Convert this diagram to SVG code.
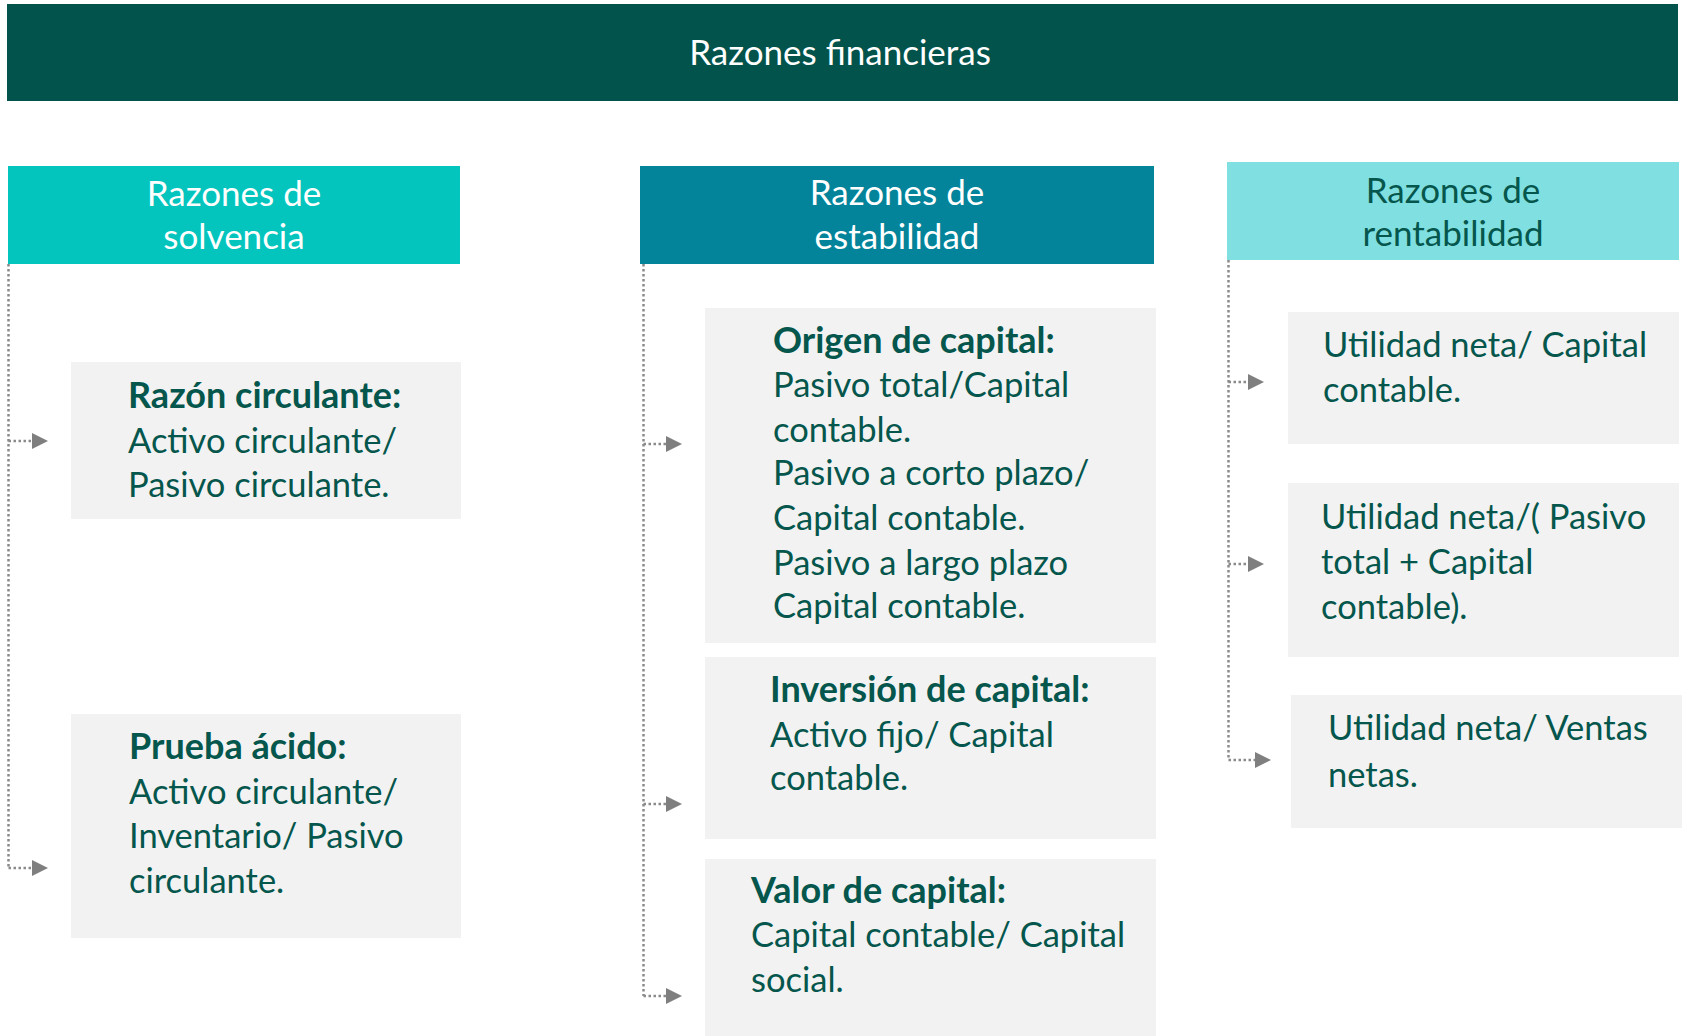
<svg xmlns="http://www.w3.org/2000/svg" width="1688" height="1036" viewBox="0 0 1688 1036">
<style>
text{font-family:Lato,"Noto Sans","Liberation Sans",sans-serif;font-size:34.5px;}
.w{fill:#ffffff;font-size:35px;}
.h{font-size:35px;}
.g{fill:#05564c;}
.b{font-weight:bold;font-size:36px;}
.box{fill:#f2f2f2;}
.c{fill:none;stroke:#8a8a8a;stroke-width:2.5;stroke-dasharray:2.5 2.5;}
.ah{fill:#7f7f7f;}
</style>
<rect width="1688" height="1036" fill="#ffffff"/>
<g id="title">
<rect x="7" y="4" width="1671" height="97" fill="#02534b"/>
<text class="w" x="840" y="65" text-anchor="middle">Razones financieras</text>
</g>
<g id="h-solvencia">
<rect x="8" y="166" width="452" height="98" fill="#03c5be"/>
<text class="w" x="234" y="206" text-anchor="middle">Razones de</text>
<text class="w" x="234" y="249" text-anchor="middle">solvencia</text>
</g>
<g id="h-estabilidad">
<rect x="640" y="166" width="514" height="98" fill="#03849a"/>
<text class="w" x="897" y="205" text-anchor="middle">Razones de</text>
<text class="w" x="897" y="249" text-anchor="middle">estabilidad</text>
</g>
<g id="h-rentabilidad">
<rect x="1227" y="162" width="452" height="98" fill="#80dfe0"/>
<text class="g h" x="1453" y="203" text-anchor="middle">Razones de</text>
<text class="g h" x="1453" y="246" text-anchor="middle">rentabilidad</text>
</g>
<g id="connectors">
<path class="c" d="M8.5 264 V868 M8.5 441 H32 M8.5 868 H32"/>
<polygon class="ah" points="32,433 48,441 32,449"/>
<polygon class="ah" points="32,860 48,868 32,876"/>
<path class="c" d="M643.5 264 V996 M643.5 444 H666 M643.5 804 H666 M643.5 996 H666"/>
<polygon class="ah" points="666,436 682,444 666,452"/>
<polygon class="ah" points="666,796 682,804 666,812"/>
<polygon class="ah" points="666,988 682,996 666,1004"/>
<path class="c" d="M1228.5 260 V760 M1228.5 382 H1248 M1228.5 564 H1248 M1228.5 760 H1255"/>
<polygon class="ah" points="1248,374 1264,382 1248,390"/>
<polygon class="ah" points="1248,556 1264,564 1248,572"/>
<polygon class="ah" points="1255,752 1271,760 1255,768"/>
</g>
<g id="razon-circulante">
<rect class="box" x="71" y="362" width="390" height="157"/>
<text class="g b" x="128" y="408">Razón circulante:</text>
<text class="g" x="128" y="453">Activo circulante/</text>
<text class="g" x="128" y="497">Pasivo circulante.</text>
</g>
<g id="prueba-acido">
<rect class="box" x="71" y="714" width="390" height="224"/>
<text class="g b" x="129" y="759">Prueba ácido:</text>
<text class="g" x="129" y="804">Activo circulante/</text>
<text class="g" x="129" y="848">Inventario/ Pasivo</text>
<text class="g" x="129" y="893">circulante.</text>
</g>
<g id="origen-capital">
<rect class="box" x="705" y="308" width="451" height="335"/>
<text class="g b" x="773" y="353">Origen de capital:</text>
<text class="g" x="773" y="397">Pasivo total/Capital</text>
<text class="g" x="773" y="442">contable.</text>
<text class="g" x="773" y="485">Pasivo a corto plazo/</text>
<text class="g" x="773" y="530">Capital contable.</text>
<text class="g" x="773" y="575">Pasivo a largo plazo</text>
<text class="g" x="773" y="618">Capital contable.</text>
</g>
<g id="inversion-capital">
<rect class="box" x="705" y="657" width="451" height="182"/>
<text class="g b" x="770" y="702">Inversión de capital:</text>
<text class="g" x="770" y="747">Activo fijo/ Capital</text>
<text class="g" x="770" y="790">contable.</text>
</g>
<g id="valor-capital">
<rect class="box" x="705" y="859" width="451" height="177"/>
<text class="g b" x="751" y="903">Valor de capital:</text>
<text class="g" x="751" y="947">Capital contable/ Capital</text>
<text class="g" x="751" y="992">social.</text>
</g>
<g id="utilidad-capital">
<rect class="box" x="1288" y="312" width="391" height="132"/>
<text class="g" x="1323" y="357">Utilidad neta/ Capital</text>
<text class="g" x="1323" y="402">contable.</text>
</g>
<g id="utilidad-pasivo">
<rect class="box" x="1288" y="483" width="391" height="174"/>
<text class="g" x="1321" y="529">Utilidad neta/( Pasivo</text>
<text class="g" x="1321" y="574">total + Capital</text>
<text class="g" x="1321" y="619">contable).</text>
</g>
<g id="utilidad-ventas">
<rect class="box" x="1291" y="695" width="391" height="133"/>
<text class="g" x="1328" y="740">Utilidad neta/ Ventas</text>
<text class="g" x="1328" y="787">netas.</text>
</g>
</svg>
